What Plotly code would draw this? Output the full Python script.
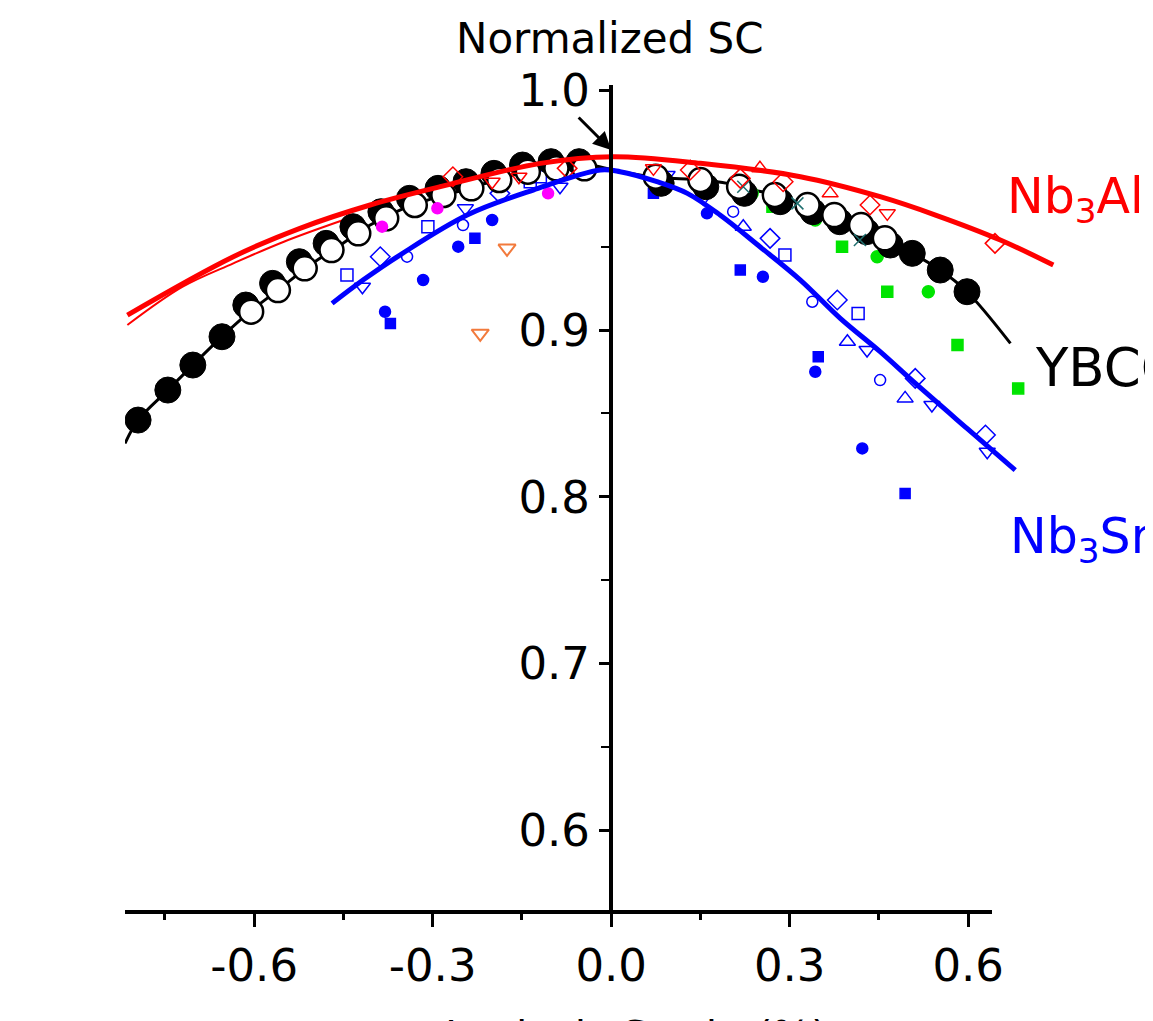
import plotly.graph_objects as go

# fitted curves
nb3al_x = [-0.813, -0.635, -0.523, -0.405, -0.287, -0.119, 0.003, 0.150, 0.318, 0.452, 0.545, 0.654, 0.743]
nb3al_y = [0.909, 0.944, 0.961, 0.975, 0.986, 1.000, 1.004, 1.000, 0.992, 0.980, 0.969, 0.954, 0.939]
nb3al_band_x = [-0.813, -0.72, -0.635, -0.55, -0.45]
nb3al_band_y = [0.903, 0.926, 0.940, 0.953, 0.966]

ybco_x = [-0.817, -0.795, -0.745, -0.703, -0.654, -0.607, -0.556, -0.506, -0.455, -0.405, -0.355, -0.299, -0.249,
          -0.203, -0.165, -0.119, -0.086, -0.035, 0.003, 0.066, 0.150, 0.195, 0.239, 0.279, 0.318, 0.363, 0.407,
          0.452, 0.506, 0.553, 0.598, 0.671]
ybco_y = [0.832, 0.846, 0.864, 0.879, 0.896, 0.911, 0.925, 0.939, 0.951, 0.963, 0.972, 0.979, 0.984,
          0.989, 0.993, 0.997, 1.000, 0.999, 0.996, 0.992, 0.990, 0.988, 0.984, 0.981, 0.976, 0.971, 0.965,
          0.956, 0.946, 0.936, 0.923, 0.892]

nb3sn_x = [-0.469, -0.417, -0.355, -0.242, -0.131, -0.018, 0.015, 0.077, 0.128, 0.183, 0.250, 0.318, 0.385,
           0.452, 0.508, 0.598, 0.679]
nb3sn_y = [0.916, 0.930, 0.945, 0.969, 0.984, 0.996, 0.995, 0.989, 0.982, 0.969, 0.950, 0.930, 0.907,
           0.887, 0.869, 0.841, 0.816]

# YBCO data circles
ybco_black_x = [-0.795, -0.745, -0.703, -0.654, -0.614, -0.569, -0.524, -0.479, -0.434, -0.387, -0.339, -0.291,
                -0.244, -0.197, -0.149, -0.101, -0.054, 0.084, 0.159, 0.224, 0.284, 0.339, 0.384, 0.429, 0.469,
                0.506, 0.553, 0.598]
ybco_black_y = [0.846, 0.864, 0.879, 0.896, 0.915, 0.928, 0.941, 0.952, 0.962, 0.971, 0.979, 0.985,
                0.989, 0.994, 0.999, 1.001, 1.001, 0.988, 0.986, 0.982, 0.977, 0.971, 0.965, 0.959, 0.951,
                0.946, 0.936, 0.923]
ybco_white_x = [-0.605, -0.560, -0.515, -0.470, -0.425, -0.378, -0.330, -0.282, -0.235, -0.188, -0.140, -0.092,
                -0.045, 0.075, 0.150, 0.215, 0.275, 0.330, 0.375, 0.420, 0.460]
ybco_white_y = [0.911, 0.924, 0.937, 0.948, 0.958, 0.967, 0.975, 0.981, 0.985, 0.990, 0.995, 0.997,
                0.997, 0.992, 0.990, 0.986, 0.981, 0.975, 0.969, 0.963, 0.955]
ybco_x_marks_x = [0.222, 0.313, 0.418]
ybco_x_marks_y = [0.986, 0.976, 0.954]

# Nb3Sn data
sn_fill_sq_x = [-0.371, -0.229, 0.071, 0.217, 0.348, 0.494]
sn_fill_sq_y = [0.904, 0.955, 0.982, 0.936, 0.884, 0.802]
sn_fill_ci_x = [-0.380, -0.316, -0.257, -0.200, 0.161, 0.255, 0.343, 0.422]
sn_fill_ci_y = [0.911, 0.930, 0.950, 0.966, 0.970, 0.932, 0.875, 0.829]
sn_sq_x = [-0.444, -0.308, -0.136, -0.119, 0.292, 0.415]
sn_sq_y = [0.933, 0.962, 0.989, 0.992, 0.945, 0.910]
sn_dia_x = [-0.388, -0.187, 0.267, 0.380, 0.511, 0.629]
sn_dia_y = [0.944, 0.982, 0.955, 0.918, 0.871, 0.837]
sn_tdn_x = [-0.418, -0.245, -0.086, 0.094, 0.155, 0.430, 0.539, 0.632]
sn_tdn_y = [0.926, 0.973, 0.986, 0.993, 0.979, 0.888, 0.855, 0.827]
sn_tup_x = [0.222, 0.397, 0.494]
sn_tup_y = [0.962, 0.893, 0.859]
sn_ci_x = [-0.343, -0.249, 0.205, 0.338, 0.452]
sn_ci_y = [0.944, 0.963, 0.971, 0.917, 0.870]

# Nb3Al data
al_dia_x = [-0.266, -0.074, 0.133, 0.217, 0.289, 0.435, 0.645]
al_dia_y = [0.992, 0.997, 0.996, 0.991, 0.989, 0.975, 0.952]
al_tdn_x = [-0.200, -0.155, 0.071, 0.464]
al_tdn_y = [0.989, 0.992, 0.997, 0.970]
al_tup_x = [0.250, 0.368]
al_tup_y = [0.997, 0.982]

# other sets
orange_x = [-0.175, -0.220]
orange_y = [0.949, 0.898]
magenta_x = [-0.385, -0.292, -0.106]
magenta_y = [0.962, 0.973, 0.982]
green_sq_x = [0.271, 0.388, 0.464, 0.582, 0.684]
green_sq_y = [0.974, 0.950, 0.923, 0.891, 0.865]
green_ci_x = [-0.057, 0.237, 0.343, 0.447, 0.533]
green_ci_y = [0.997, 0.982, 0.966, 0.944, 0.923]

x_ticks = [-0.6, -0.3, 0.0, 0.3, 0.6]
x_tick_text = ["-0.6", "-0.3", "0.0", "0.3", "0.6"]
y_ticks = [0.6, 0.7, 0.8, 0.9, 1.044]
y_tick_text = ["0.6", "0.7", "0.8", "0.9", "1.0"]

RED = "#ff0000"
BLUE = "#0000ff"
GREEN = "#00e400"

fig = go.Figure()


def pts(x, y, color, symbol, size, filled=True, lw=1.5):
    mk = dict(symbol=symbol if filled else symbol + "-open", size=size, color=color,
              line=dict(width=lw, color=color))
    fig.add_trace(go.Scatter(x=x, y=y, mode="markers", marker=mk, cliponaxis=False, hoverinfo="skip"))


# curves
fig.add_trace(go.Scatter(x=nb3al_band_x, y=nb3al_band_y, mode="lines", line=dict(color=RED, width=2, shape="spline")))
fig.add_trace(go.Scatter(x=ybco_x, y=ybco_y, mode="lines", line=dict(color="black", width=3, shape="spline")))

# scatter data
pts(sn_fill_sq_x, sn_fill_sq_y, BLUE, "square", 10)
pts(sn_fill_ci_x, sn_fill_ci_y, BLUE, "circle", 11)
pts(sn_sq_x, sn_sq_y, BLUE, "square", 12, False)
pts(sn_dia_x, sn_dia_y, BLUE, "diamond", 15, False)
pts(sn_tdn_x, sn_tdn_y, BLUE, "triangle-down", 14, False)
pts(sn_tup_x, sn_tup_y, BLUE, "triangle-up", 14, False)
pts(sn_ci_x, sn_ci_y, BLUE, "circle", 11, False)
pts(orange_x, orange_y, "#f27a3c", "triangle-down", 15, False, 2)
pts(green_sq_x, green_sq_y, GREEN, "square", 11)
pts(green_ci_x, green_ci_y, GREEN, "circle", 12)

# YBCO circles
fig.add_trace(go.Scatter(x=ybco_black_x, y=ybco_black_y, mode="markers",
                         marker=dict(symbol="circle", size=26, color="black", line=dict(width=1, color="black"))))
fig.add_trace(go.Scatter(x=ybco_white_x, y=ybco_white_y, mode="markers",
                         marker=dict(symbol="circle", size=24, color="white", line=dict(width=2.5, color="black"))))
pts(ybco_x_marks_x, ybco_x_marks_y, "#1f6f6f", "x-thin", 12, True, 1.5)
pts(magenta_x, magenta_y, "#ff00ff", "circle", 11)

pts(al_dia_x, al_dia_y, RED, "diamond", 15, False)
pts(al_tdn_x, al_tdn_y, RED, "triangle-down", 14, False)
pts(al_tup_x, al_tup_y, RED, "triangle-up", 14, False)

fig.add_trace(go.Scatter(x=nb3sn_x, y=nb3sn_y, mode="lines", line=dict(color=BLUE, width=5, shape="spline")))
fig.add_trace(go.Scatter(x=nb3al_x, y=nb3al_y, mode="lines", line=dict(color=RED, width=5, shape="spline")))

# x axis line stops short of the right edge
fig.add_shape(type="line", xref="x", yref="paper", x0=-0.817, x1=0.64, y0=0, y1=0,
              line=dict(color="black", width=4))

# page body has an 8px margin, so margins are trimmed by 8
fig.update_layout(
    width=1153, height=1021,
    margin=dict(l=117, r=0, t=77, b=117),
    plot_bgcolor="white", paper_bgcolor="white",
    showlegend=False,
    font=dict(family="DejaVu Sans", color="black"),
    xaxis=dict(range=[-0.817, 0.924], showgrid=False, zeroline=False, showline=False,
               tickvals=x_ticks, ticktext=x_tick_text, ticks="outside", ticklen=14, tickwidth=3,
               tickcolor="black", ticklabelstandoff=0, tickfont=dict(size=45),
               minor=dict(tickvals=[-0.75, -0.45, -0.15, 0.15, 0.45], ticks="outside", ticklen=7,
                          tickwidth=3, tickcolor="black")),
    yaxis=dict(range=[0.5509, 1.047], anchor="free", position=0.4691, showgrid=False, zeroline=False,
               showline=True, linecolor="black", linewidth=4,
               tickvals=y_ticks, ticktext=y_tick_text, ticks="outside", ticklen=10, tickwidth=3,
               tickcolor="black", ticklabelstandoff=0, tickfont=dict(size=45),
               minor=dict(tickvals=[0.65, 0.75, 0.85, 0.95], ticks="outside", ticklen=8,
                          tickwidth=2, tickcolor="black")),
)

fig.add_annotation(text="Normalized SC", xref="paper", yref="paper", x=0.468, y=1.0568,
                   showarrow=False, font=dict(size=42), xanchor="center", yanchor="middle")
fig.add_annotation(text="Intrinsic Strain (%)", xref="paper", yref="paper", x=0.493, y=-0.118,
                   showarrow=False, font=dict(size=41), xanchor="center", yanchor="top")
fig.add_annotation(x=0.0, y=1.008, xref="x", yref="y", text="", showarrow=True, ax=-34, ay=-34,
                   arrowhead=2, arrowsize=1.2, arrowwidth=3, arrowcolor="black")

fig.add_annotation(text="Nb<sub>3</sub>Al", xref="paper", yref="paper", x=0.849, y=0.861,
                   showarrow=False, font=dict(size=49, color=RED), xanchor="left", yanchor="middle")
fig.add_annotation(text="YBCO", xref="paper", yref="paper", x=0.876, y=0.658,
                   showarrow=False, font=dict(size=53, color="black"), xanchor="left", yanchor="middle")
fig.add_annotation(text="Nb<sub>3</sub>Sn", xref="paper", yref="paper", x=0.852, y=0.45,
                   showarrow=False, font=dict(size=49, color=BLUE), xanchor="left", yanchor="middle")

fig.write_html("out.html")
